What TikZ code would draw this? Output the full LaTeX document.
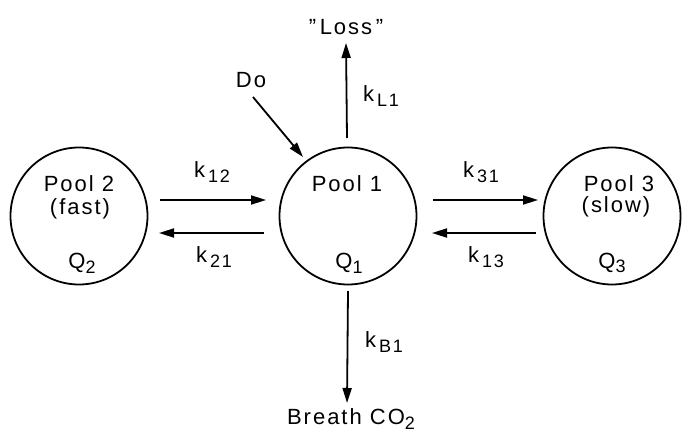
\documentclass[tikz,border=0pt]{standalone}
\usepackage{fontspec}
\setmainfont[LetterSpace=9]{Liberation Sans}
\usetikzlibrary{arrows.meta}
\newcommand{\lsub}[2][3pt]{\hspace{#1}\raisebox{-0.4ex}{\fontsize{18}{18}\selectfont #2}}
\tikzset{
  pool/.style={circle, draw, line width=1.8pt, minimum size=137pt, inner sep=0pt},
  lbl/.style={font=\fontsize{22}{24}\selectfont, inner sep=0pt},
  flow/.style={line width=1.8pt, -{Triangle[length=15pt,width=9pt]}}
}
\begin{document}
\begin{tikzpicture}[x=1pt,y=-1pt]
\useasboundingbox (0,0) rectangle (682,433);
% pools
\node[pool] (p2) at (79,216) {};
\node[pool] (p1) at (348,216) {};
\node[pool] (p3) at (612,216) {};
% pool texts
\node[lbl] (t2a) at (79,184) {Pool 2};
\node[lbl] (t2b) at (80,209) {(fast)};
\node[lbl] (t2q) at (82,263) {Q\lsub[0pt]{2}};
\node[lbl] (t1a) at (347,184) {Pool 1};
\node[lbl] (t1q) at (349,263) {Q\lsub[0pt]{1}};
\node[lbl] (t3a) at (619,184) {Pool 3};
\node[lbl] (t3b) at (616,207) {(slow)};
\node[lbl] (t3q) at (612,263) {Q\lsub[0pt]{3}};
% outer labels
\node[lbl] (loss) at (346,27) {"\,Loss\,"};
\node[lbl] (breath) at (351,419) {Breath CO\lsub[0pt]{2}};
\node[lbl] (do) at (251,80) {Do};
% rate labels
\node[lbl] (kL1) at (381,96) {k\lsub{L1}};
\node[lbl] (kB1) at (384,342) {k\lsub{B1}};
\node[lbl] (k12) at (212,172) {k\lsub{12}};
\node[lbl] (k21) at (214,257) {k\lsub{21}};
\node[lbl] (k31) at (481,172) {k\lsub{31}};
\node[lbl] (k13) at (486,257) {k\lsub{13}};
% connector end points
\coordinate (a12s) at (160,200);
\coordinate (a12e) at (266,200);
\coordinate (a21s) at (264,233);
\coordinate (a21e) at (159,233);
\coordinate (a31s) at (433,200);
\coordinate (a31e) at (538,200);
\coordinate (a13s) at (536,233);
\coordinate (a13e) at (432,233);
\coordinate (upS) at (347,138);
\coordinate (dnE) at (347,403);
\coordinate (doS) at (253,97);
\coordinate (doE) at (303,157);
% arrows
\draw[flow] (a12s) -- (a12e);
\draw[flow] (a21s) -- (a21e);
\draw[flow] (a31s) -- (a31e);
\draw[flow] (a13s) -- (a13e);
\draw[flow] (upS) -- (loss.south |- 0,43);
\draw[flow] (p1.south |- 0,291) -- (dnE);
\draw[flow] (doS) -- (doE);
\end{tikzpicture}
\end{document}
